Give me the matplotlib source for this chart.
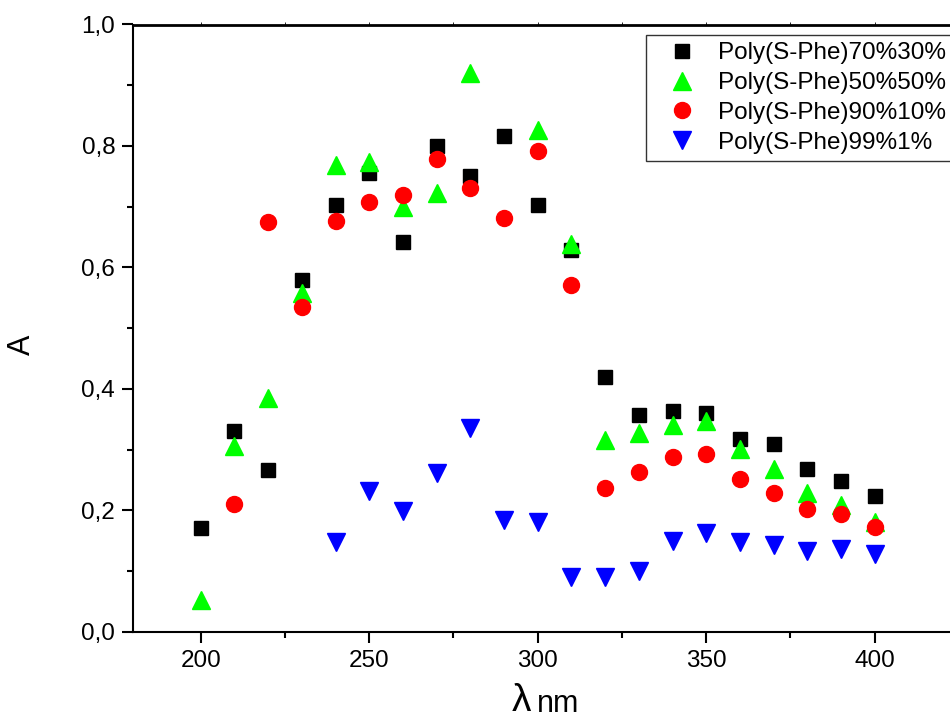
import numpy as np
import matplotlib
matplotlib.use("Agg")
import matplotlib.pyplot as plt
from matplotlib.ticker import MultipleLocator, FuncFormatter

plt.rcParams['font.family'] = ['Liberation Sans', 'DejaVu Sans']

wavelength = [200, 210, 220, 230, 240, 250, 260, 270, 280, 290,
              300, 310, 320, 330, 340, 350, 360, 370, 380, 390, 400]

abs_70_30 = [0.171, 0.331, 0.266, 0.579, 0.702, 0.755, 0.641, 0.800, 0.751, 0.816,
             0.703, 0.629, 0.420, 0.357, 0.364, 0.360, 0.317, 0.309, 0.268, 0.249, 0.224]
abs_50_50 = [0.052, 0.306, 0.385, 0.558, 0.769, 0.773, 0.700, 0.722, 0.920, np.nan,
             0.826, 0.638, 0.316, 0.328, 0.340, 0.347, 0.301, 0.268, 0.228, 0.208, 0.180]
abs_90_10 = [np.nan, 0.210, 0.675, 0.534, 0.677, 0.707, 0.719, 0.778, 0.731, 0.681,
             0.792, 0.571, 0.237, 0.263, 0.288, 0.292, 0.252, 0.229, 0.202, 0.194, 0.173]
abs_99_1 = [np.nan, np.nan, np.nan, np.nan, 0.147, 0.232, 0.198, 0.261, 0.336, 0.184,
            0.181, 0.090, 0.090, 0.100, 0.149, 0.162, 0.148, 0.142, 0.133, 0.136, 0.128]

labels = ["Poly(S-Phe)70%30%", "Poly(S-Phe)50%50%",
          "Poly(S-Phe)90%10%", "Poly(S-Phe)99%1%"]

fig = plt.figure(figsize=(9.5, 7.2), dpi=100)
ax = fig.add_axes([133.3 / 950, 1 - 631.7 / 720, 842.5 / 950, 607.2 / 720])

x = np.array(wavelength)
ax.plot(x, abs_70_30, ls='none', marker='s', ms=9.4, color='black', mec='black', label=labels[0])
ax.plot(x, abs_50_50, ls='none', marker='^', ms=12.5, color='#00ff00', mec='#00ff00', label=labels[1])
ax.plot(x, abs_90_10, ls='none', marker='o', ms=11.5, color='#ff0000', mec='#ff0000', label=labels[2])
ax.plot(x, abs_99_1, ls='none', marker='v', ms=12.5, color='#0000ff', mec='#0000ff', label=labels[3])

ax.set_xlim(180, 430)
ax.set_ylim(0.0, 1.0)
ax.xaxis.set_major_locator(MultipleLocator(50))
ax.xaxis.set_minor_locator(MultipleLocator(25))
ax.yaxis.set_major_locator(MultipleLocator(0.2))
ax.yaxis.set_minor_locator(MultipleLocator(0.1))
ax.yaxis.set_major_formatter(FuncFormatter(lambda v, p: f"{v:.1f}".replace('.', ',')))

for side in ['left', 'bottom', 'right']:
    ax.spines[side].set_linewidth(1.5)
ax.spines['top'].set_linewidth(2.0)

ax.tick_params(axis='both', which='major', direction='out', length=8, width=1.5,
               labelsize=17.5, pad=5, colors='black')
ax.tick_params(axis='both', which='minor', direction='out', length=4, width=1.5)
ax.tick_params(axis='x', which='both', top=True, labeltop=False)
# faint tick marks along the top spine
for t in ax.xaxis.get_ticklines(minor=False)[1::2] + ax.xaxis.get_ticklines(minor=True)[1::2]:
    t.set_markersize(2)
    t.set_markeredgewidth(0.6)
    t.set_color('#888888')

fig.text(22 / 950, 1 - 345 / 720, "A", rotation=90, ha='center', va='center', fontsize=22)
fig.text(512 / 950, 1 - 719 / 720, "λ", ha='left', va='bottom', fontsize=28)
fig.text(537 / 950, 1 - 719 / 720, "nm", ha='left', va='bottom', fontsize=22)

leg = ax.legend(loc='upper left', bbox_to_anchor=(646 / 950, 1 - 35 / 720),
                bbox_transform=fig.transFigure, fontsize=17.5, frameon=True,
                fancybox=False, edgecolor='black', borderaxespad=0,
                borderpad=0.3, labelspacing=0.32, handlelength=2.4,
                handletextpad=0.25)
leg.get_frame().set_linewidth(1.0)

fig.savefig("out.png", dpi=100)
